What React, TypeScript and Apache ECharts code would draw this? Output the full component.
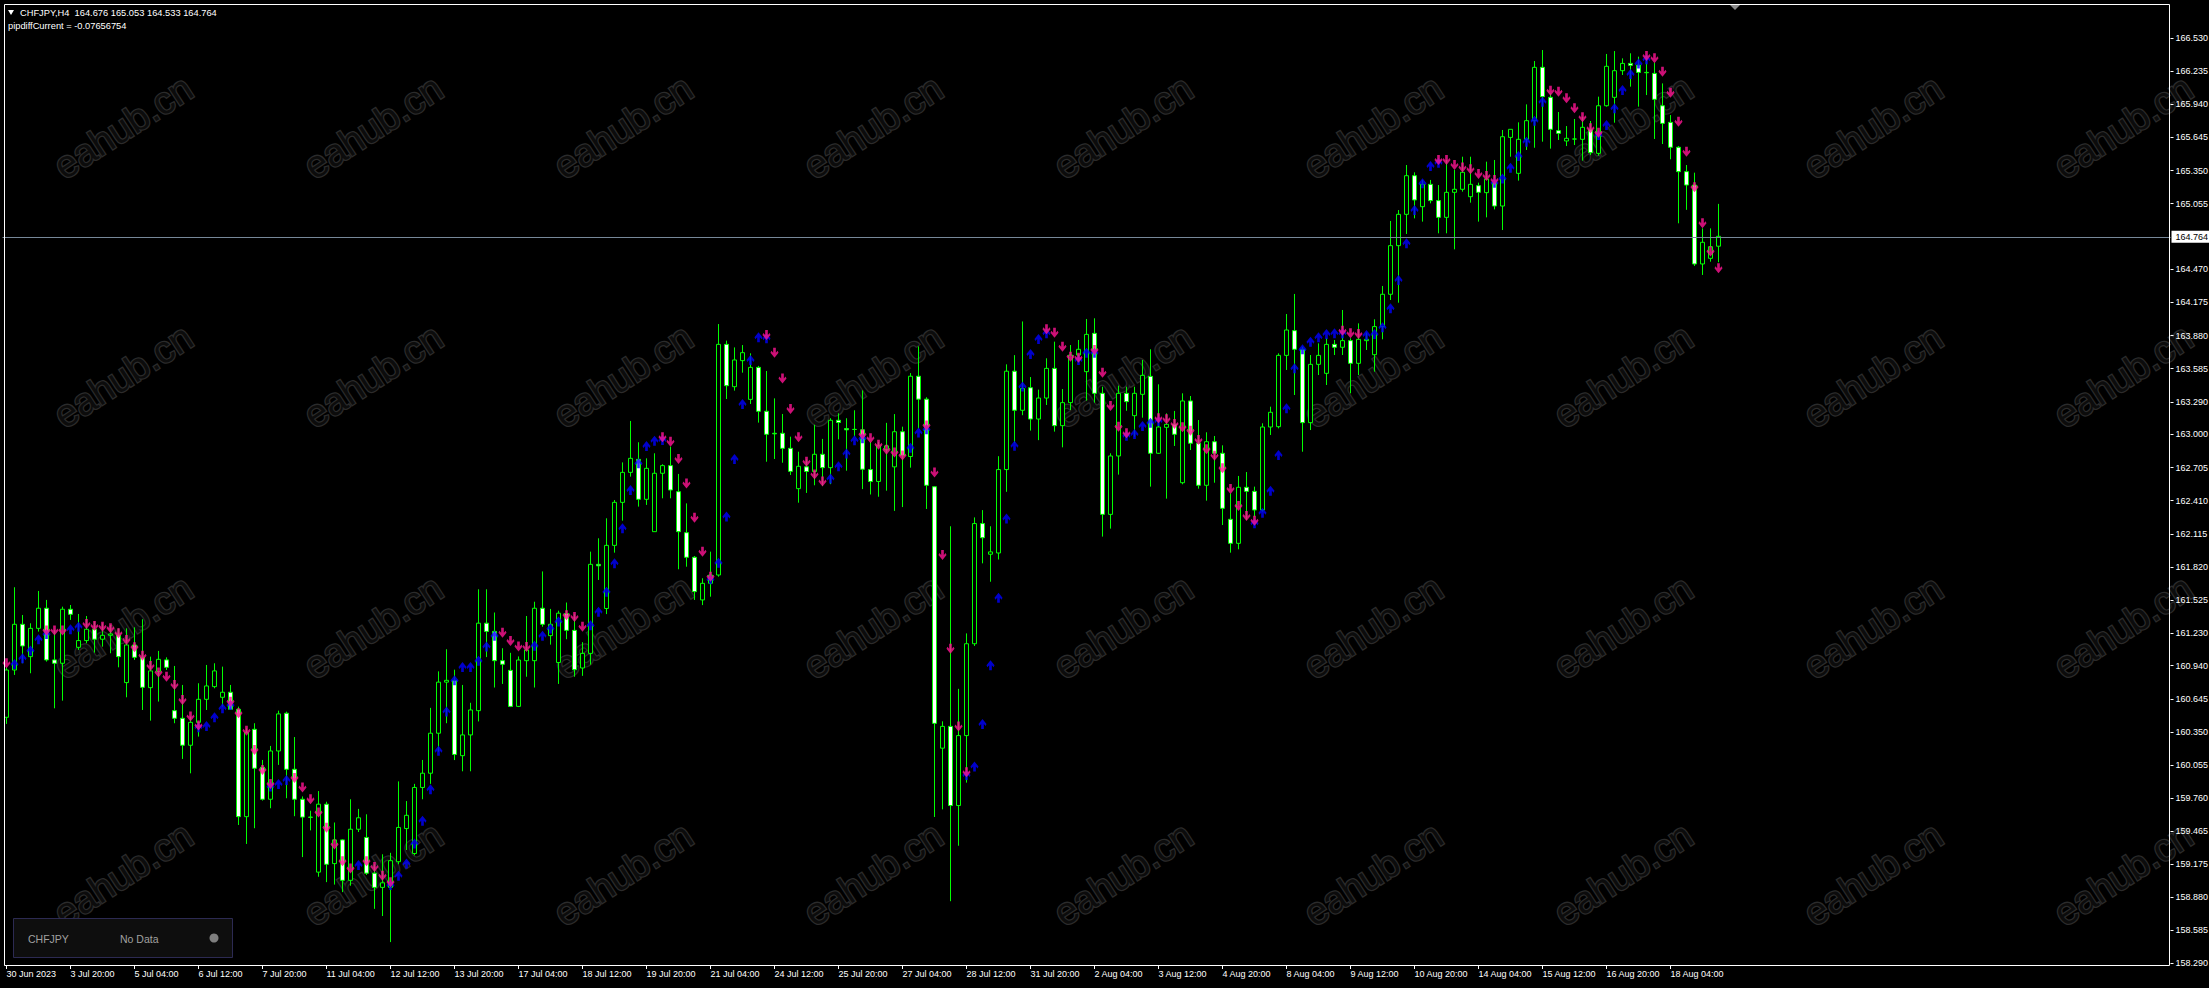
import React, { useEffect, useRef } from 'react';
import * as echarts from 'echarts';

// ---------------- data ----------------
const symbolName = 'CHFJPY';
const headerLine = 'CHFJPY,H4  164.676 165.053 164.533 164.764';
const indicatorLine = 'pipdiffCurrent = -0.07656754';

const dateLabels = [
  '30 Jun 2023', '3 Jul 20:00', '5 Jul 04:00', '6 Jul 12:00', '7 Jul 20:00', '11 Jul 04:00',
  '12 Jul 12:00', '13 Jul 20:00', '17 Jul 04:00', '18 Jul 12:00', '19 Jul 20:00', '21 Jul 04:00',
  '24 Jul 12:00', '25 Jul 20:00', '27 Jul 04:00', '28 Jul 12:00', '31 Jul 20:00', '2 Aug 04:00',
  '3 Aug 12:00', '4 Aug 20:00', '8 Aug 04:00', '9 Aug 12:00', '10 Aug 20:00', '14 Aug 04:00',
  '15 Aug 12:00', '16 Aug 20:00', '18 Aug 04:00',
];

const priceTicks = [
  158.29, 158.585, 158.88, 159.175, 159.465, 159.76, 160.055, 160.35, 160.645, 160.94,
  161.23, 161.525, 161.82, 162.115, 162.41, 162.705, 163.0, 163.29, 163.585, 163.88,
  164.175, 164.47, 165.055, 165.35, 165.645, 165.94, 166.235, 166.53,
];

const currentPrice = 164.764;

const open = [
  160.481, 160.902, 161.309, 161.021, 161.273, 161.452, 160.992, 160.962, 161.443, 161.104,
  161.164, 161.265, 161.176, 161.211, 161.214, 160.790, 161.125, 161.015, 160.745, 160.888,
  160.992, 160.540, 160.472, 160.232, 160.436, 160.641, 160.754, 160.659, 160.704, 160.552,
  159.596, 160.374, 160.036, 159.751, 160.181, 160.517, 160.018, 159.751, 159.592, 159.102,
  159.707, 159.178, 159.389, 159.029, 159.484, 159.411, 159.093, 158.966, 158.966, 159.195,
  159.490, 159.268, 159.856, 159.983, 160.339, 160.794, 160.810, 160.139, 160.324, 160.540,
  161.319, 161.246, 160.985, 160.899, 160.578, 160.985, 160.985, 161.452, 161.208, 160.969,
  161.405, 161.255, 160.920, 161.050, 161.843, 161.450, 162.012, 162.395, 162.662, 162.778,
  162.422, 162.134, 162.654, 162.722, 162.490, 162.125, 161.906, 161.526, 161.674, 161.748,
  163.802, 163.425, 163.657, 163.312, 163.597, 163.206, 163.010, 163.010, 162.876, 162.517,
  162.711, 162.670, 162.823, 162.704, 163.126, 163.052, 163.045, 163.041, 162.687, 162.581,
  162.864, 162.711, 163.024, 162.803, 163.518, 163.314, 162.534, 160.206, 160.400, 159.695,
  160.318, 161.136, 162.206, 161.933, 161.944, 162.687, 163.563, 163.215, 163.416, 163.137,
  163.324, 163.588, 163.078, 163.283, 163.707, 163.559, 163.900, 163.366, 162.288, 162.808,
  163.366, 163.167, 163.357, 163.517, 162.832, 163.063, 163.090, 162.570, 163.298, 162.921,
  162.547, 162.935, 162.832, 162.244, 162.030, 162.529, 162.493, 162.327, 163.066, 163.069,
  163.704, 163.924, 163.758, 163.105, 163.624, 163.544, 163.802, 163.776, 163.835, 163.633,
  163.835, 163.710, 163.960, 164.248, 164.681, 164.960, 165.304, 165.028, 165.227, 165.082,
  164.933, 165.156, 165.183, 165.117, 165.215, 165.153, 165.245, 165.034, 165.645, 165.325,
  165.628, 165.794, 166.269, 166.002, 165.705, 165.613, 165.631, 165.628, 165.717, 165.503,
  165.927, 166.002, 166.239, 166.304, 166.290, 166.224, 166.215, 165.927, 165.779, 165.557,
  165.340, 165.221, 164.518, 164.568, 164.676,
];

const high = [
  160.926, 161.639, 161.392, 161.318, 161.606, 161.526, 161.259, 161.466, 161.481, 161.401,
  161.383, 161.333, 161.318, 161.303, 161.273, 161.273, 161.282, 161.354, 161.021, 161.072,
  161.015, 160.938, 160.769, 160.487, 160.784, 160.947, 160.962, 160.932, 160.769, 160.576,
  160.383, 160.428, 160.101, 160.226, 160.540, 160.531, 160.305, 159.776, 159.649, 159.824,
  159.729, 159.544, 159.395, 159.751, 159.665, 159.617, 159.172, 159.261, 159.274, 159.910,
  159.735, 159.888, 160.101, 160.565, 160.890, 161.087, 160.905, 160.769, 160.610, 161.621,
  161.621, 161.414, 161.096, 161.055, 161.023, 161.383, 161.510, 161.780, 161.446, 161.430,
  161.503, 161.398, 161.150, 161.956, 162.075, 162.253, 162.416, 162.751, 163.120, 162.930,
  162.787, 162.832, 162.734, 162.891, 162.648, 162.386, 161.917, 161.719, 161.956, 163.983,
  163.835, 163.775, 163.796, 163.722, 163.610, 163.565, 163.321, 163.182, 162.980, 162.846,
  162.779, 163.086, 162.960, 163.144, 163.188, 163.144, 163.215, 163.392, 162.932, 162.932,
  163.103, 163.181, 163.069, 163.546, 163.784, 163.331, 162.540, 160.445, 162.182, 160.734,
  161.228, 162.261, 162.326, 162.182, 162.806, 163.624, 163.706, 164.006, 163.511, 163.399,
  163.678, 163.826, 163.404, 163.796, 163.841, 164.028, 164.034, 163.425, 162.832, 163.434,
  163.425, 163.425, 163.663, 163.758, 163.446, 163.188, 163.209, 163.366, 163.342, 163.128,
  163.019, 162.986, 162.903, 162.475, 162.630, 162.665, 162.535, 163.099, 163.247, 163.722,
  164.072, 164.251, 163.781, 163.707, 163.811, 163.856, 163.841, 164.108, 163.856, 163.989,
  163.906, 164.025, 164.322, 164.901, 164.998, 165.399, 165.334, 165.266, 165.266, 165.221,
  165.444, 165.355, 165.473, 165.473, 165.242, 165.429, 165.444, 165.711, 165.717, 165.779,
  165.939, 166.325, 166.423, 166.037, 165.871, 165.746, 165.809, 165.830, 165.791, 166.008,
  166.388, 166.414, 166.349, 166.394, 166.364, 166.370, 166.310, 166.126, 165.844, 165.568,
  165.399, 165.331, 164.835, 164.835, 165.053,
];

const low = [
  160.422, 160.858, 160.962, 160.873, 161.244, 160.977, 160.561, 160.629, 161.348, 161.081,
  161.140, 161.057, 161.110, 161.051, 160.926, 160.659, 160.992, 160.546, 160.451, 160.621,
  160.902, 160.428, 160.110, 159.982, 160.309, 160.546, 160.739, 160.576, 160.546, 159.522,
  159.353, 159.493, 159.739, 159.671, 160.057, 159.760, 159.600, 159.236, 159.474, 159.061,
  159.013, 158.991, 158.924, 158.981, 159.459, 159.077, 158.775, 158.711, 158.479, 159.172,
  159.299, 159.252, 159.751, 159.888, 160.174, 160.428, 160.100, 160.000, 160.000, 160.444,
  161.017, 160.746, 160.778, 160.572, 160.572, 160.842, 160.746, 161.287, 161.128, 160.778,
  161.176, 160.842, 160.850, 160.950, 161.704, 161.400, 161.947, 162.232, 162.624, 162.357,
  162.372, 162.134, 162.431, 162.431, 161.799, 161.822, 161.526, 161.480, 161.555, 161.733,
  163.315, 163.390, 163.550, 163.271, 163.105, 162.757, 162.781, 162.748, 162.639, 162.392,
  162.479, 162.547, 162.540, 162.557, 162.956, 162.677, 162.983, 162.513, 162.465, 162.445,
  162.499, 162.319, 162.353, 162.704, 163.052, 162.336, 159.593, 159.661, 158.843, 159.337,
  159.899, 161.116, 161.852, 161.688, 161.886, 162.489, 162.922, 163.171, 163.034, 162.949,
  163.262, 163.025, 162.885, 163.217, 163.648, 163.301, 163.283, 162.090, 162.161, 162.642,
  163.211, 162.980, 163.149, 162.535, 162.826, 162.428, 162.897, 162.556, 162.861, 162.517,
  162.410, 162.570, 162.193, 161.947, 161.977, 162.238, 162.268, 162.312, 162.995, 163.054,
  163.574, 163.351, 162.846, 163.039, 163.529, 163.440, 163.707, 163.707, 163.366, 163.529,
  163.752, 163.559, 163.847, 164.197, 164.173, 164.785, 164.924, 164.895, 165.058, 164.791,
  164.791, 164.648, 165.162, 165.064, 164.895, 164.933, 165.004, 164.820, 165.473, 165.260,
  165.533, 165.553, 165.607, 165.545, 165.622, 165.568, 165.577, 165.438, 165.488, 165.482,
  165.919, 165.776, 166.201, 166.097, 165.919, 166.022, 165.631, 165.586, 165.450, 164.880,
  165.000, 164.500, 164.420, 164.538, 164.533,
];

const close = [
  160.902, 161.309, 161.116, 161.273, 161.452, 160.992, 160.962, 161.443, 161.398, 161.164,
  161.265, 161.176, 161.211, 161.223, 161.021, 161.125, 161.015, 160.748, 160.894, 160.997,
  160.926, 160.472, 160.232, 160.436, 160.641, 160.760, 160.894, 160.704, 160.552, 159.596,
  160.344, 160.027, 159.751, 160.181, 160.511, 160.018, 159.751, 159.592, 159.590, 159.707,
  159.172, 159.389, 159.029, 159.484, 159.586, 159.093, 158.966, 159.007, 159.204, 159.500,
  159.608, 159.856, 159.983, 160.339, 160.794, 160.810, 160.150, 160.324, 160.546, 161.319,
  161.246, 160.985, 160.953, 160.578, 160.991, 161.080, 161.452, 161.309, 161.309, 161.408,
  161.255, 160.905, 161.050, 161.843, 161.830, 162.012, 162.395, 162.662, 162.787, 162.422,
  162.698, 162.654, 162.722, 162.505, 162.134, 161.906, 161.600, 161.674, 161.748, 163.802,
  163.434, 163.663, 163.728, 163.597, 163.206, 163.001, 163.005, 162.876, 162.671, 162.716,
  162.670, 162.823, 162.704, 163.126, 163.106, 163.041, 163.044, 162.690, 162.581, 162.898,
  162.898, 163.024, 162.813, 163.518, 163.314, 162.547, 160.427, 160.400, 159.695, 160.318,
  161.136, 162.206, 162.080, 161.954, 162.687, 163.563, 163.215, 163.409, 163.137, 163.324,
  163.588, 163.078, 163.283, 163.707, 163.758, 163.891, 163.366, 162.288, 162.808, 163.366,
  163.292, 163.366, 163.526, 162.832, 163.066, 163.090, 163.001, 163.298, 162.921, 162.547,
  162.935, 162.832, 162.342, 162.030, 162.529, 162.493, 162.327, 163.066, 163.197, 163.704,
  163.930, 163.758, 163.105, 163.624, 163.704, 163.802, 163.776, 163.835, 163.633, 163.847,
  163.847, 163.960, 164.248, 164.681, 164.960, 165.304, 165.088, 165.227, 165.082, 164.933,
  165.156, 165.183, 165.334, 165.227, 165.156, 165.274, 165.034, 165.651, 165.717, 165.628,
  165.794, 166.269, 166.008, 165.717, 165.681, 165.637, 165.630, 165.735, 165.509, 165.927,
  166.278, 166.239, 166.304, 166.287, 166.224, 166.221, 165.984, 165.770, 165.557, 165.340,
  165.221, 164.518, 164.711, 164.672, 164.764,
];

// indicator arrows: [bar index, price]
const downArrows = [
  [0, 160.962], [5, 161.253], [6, 161.253], [7, 161.253], [10, 161.312], [11, 161.294], [12, 161.288],
  [13, 161.273], [14, 161.229], [15, 161.17], [16, 161.104], [17, 161.03], [18, 160.938], [19, 160.879],
  [20, 160.843], [21, 160.769], [22, 160.635], [23, 160.487], [24, 160.407], [28, 160.62], [29, 160.517],
  [30, 160.362], [31, 160.19], [32, 160.012], [33, 159.887], [36, 159.94], [37, 159.856], [38, 159.751],
  [39, 159.633], [40, 159.497], [41, 159.347], [42, 159.198], [43, 159.134], [45, 159.198], [46, 159.147],
  [47, 159.07], [48, 159.013], [62, 161.233], [63, 161.16], [64, 161.112], [65, 161.106], [70, 161.389],
  [71, 161.373], [72, 161.287], [82, 162.974], [83, 162.935], [84, 162.781], [85, 162.564], [86, 162.259],
  [87, 161.956], [88, 161.733], [95, 163.885], [96, 163.728], [97, 163.499], [98, 163.226], [99, 162.974],
  [100, 162.757], [101, 162.643], [102, 162.581], [107, 163.0], [108, 162.966], [109, 162.908],
  [110, 162.864], [111, 162.84], [112, 162.813], [115, 163.079], [116, 162.66], [117, 161.927],
  [118, 161.092], [119, 160.4], [120, 159.991], [130, 163.936], [131, 163.906], [132, 163.781],
  [133, 163.692], [134, 163.683], [136, 163.752], [137, 163.55], [138, 163.253], [139, 163.069],
  [140, 163.01], [144, 163.143], [145, 163.134], [146, 163.093], [147, 163.063], [148, 163.033],
  [149, 162.95], [150, 162.867], [151, 162.811], [152, 162.698], [153, 162.514], [154, 162.363],
  [155, 162.274], [156, 162.232], [167, 163.924], [168, 163.9], [169, 163.894], [179, 165.444],
  [180, 165.444], [181, 165.399], [182, 165.378], [183, 165.361], [184, 165.319], [185, 165.301],
  [186, 165.266], [193, 166.061], [194, 166.052], [195, 165.993], [196, 165.904], [197, 165.824],
  [198, 165.726], [199, 165.687], [205, 166.37], [206, 166.349], [207, 166.23], [208, 166.043],
  [209, 165.785], [210, 165.518], [211, 165.2], [212, 164.88], [213, 164.628], [214, 164.479],
];

const upArrows = [
  [1, 160.956], [2, 161.006], [3, 161.075], [4, 161.176], [5, 161.223], [8, 161.265], [9, 161.288],
  [24, 160.392], [25, 160.404], [26, 160.481], [27, 160.561], [28, 160.591], [33, 159.864], [34, 159.887],
  [35, 159.922], [44, 159.166], [48, 158.988], [49, 159.07], [50, 159.179], [51, 159.357], [52, 159.56],
  [53, 159.84], [54, 160.183], [55, 160.533], [56, 160.81], [57, 160.928], [58, 160.928], [59, 160.985],
  [60, 161.112], [61, 161.208], [66, 161.119], [67, 161.208], [68, 161.271], [69, 161.335], [73, 161.3],
  [74, 161.42], [75, 161.6], [76, 161.852], [77, 162.164], [78, 162.505], [79, 162.743], [80, 162.897],
  [81, 162.944], [82, 162.95], [88, 161.71], [89, 161.858], [90, 162.268], [91, 162.781], [92, 163.271],
  [93, 163.663], [94, 163.865], [95, 163.856], [103, 162.608], [104, 162.717], [105, 162.83], [106, 162.949],
  [107, 162.966], [113, 162.881], [114, 163.017], [115, 163.045], [120, 159.967], [121, 160.042],
  [122, 160.421], [123, 160.945], [124, 161.545], [125, 162.251], [126, 162.898], [127, 163.426],
  [128, 163.716], [129, 163.85], [130, 163.9], [134, 163.663], [135, 163.728], [136, 163.728],
  [140, 162.989], [141, 163.004], [142, 163.075], [143, 163.105], [144, 163.12], [156, 162.208],
  [157, 162.303], [158, 162.498], [159, 162.817], [160, 163.232], [161, 163.589], [162, 163.758],
  [163, 163.826], [164, 163.865], [165, 163.894], [166, 163.9], [167, 163.9], [170, 163.885],
  [171, 163.894], [172, 163.954], [173, 164.123], [174, 164.375], [175, 164.702], [176, 164.999],
  [177, 165.236], [178, 165.39], [179, 165.42], [186, 165.242], [187, 165.28], [188, 165.375],
  [189, 165.479], [190, 165.607], [191, 165.794], [192, 165.963], [199, 165.666], [200, 165.755],
  [201, 165.904], [202, 166.067], [203, 166.21], [204, 166.304], [205, 166.34],
];

// ---------------- layout / style ----------------
const W = 2209;
const H = 988;
const SLOTS = 271; // bar slots incl. right shift space (8 px each)
const LABEL_STEP = 8;
const Y_MIN = 158.275;
const Y_MAX = 166.833;
const FONT = '"Liberation Sans", Arial, sans-serif';

const DOWN_PATH = 'path://M3,0L6,0L6,5L8,3L9,5L4.5,10L0,5L1,3L3,5Z';
const UP_PATH = 'path://M4.5,0L9,5L8,7L6,5L6,10L3,10L3,5L1,7L0,5Z';

function buildOption() {
  const categories = Array.from({ length: SLOTS }, (_, i) => 'b' + i);
  const candleData = open.map((o, i) => [o, close[i], low[i], high[i]]);
  const isLabel = (i: number) => i % LABEL_STEP === 0 && i / LABEL_STEP < dateLabels.length;

  const graphics: any[] = [];
  // watermarks
  const wmX = [123, 373, 623, 873, 1123, 1373, 1623, 1873, 2123];
  const wmY = [127, 376, 627, 874];
  wmY.forEach((y) =>
    wmX.forEach((x) =>
      graphics.push({
        type: 'text', x, y, rotation: (33 * Math.PI) / 180, z: 0, silent: true,
        style: {
          text: 'eahub.cn', fill: '#0c0c0c', stroke: '#2b2b2b', lineWidth: 2.5,
          fontSize: 38, fontWeight: 'normal', fontFamily: FONT,
          align: 'center', verticalAlign: 'middle', textAlign: 'center', textVerticalAlign: 'middle',
        },
      }),
    ),
  );
  // chart frame
  graphics.push({ type: 'rect', z: 50, silent: true, shape: { x: 4.5, y: 4.5, width: 2165, height: 961 }, style: { fill: 'none', stroke: '#ffffff', lineWidth: 1 } });
  // chart shift marker
  graphics.push({ type: 'polygon', z: 50, silent: true, shape: { points: [[1730, 5], [1740, 5], [1735, 10]] }, style: { fill: '#8c8c8c' } });
  // header
  graphics.push({ type: 'polygon', z: 50, silent: true, shape: { points: [[8, 10], [14, 10], [11, 15]] }, style: { fill: '#ffffff' } });
  graphics.push({ type: 'text', z: 50, silent: true, x: 20, y: 13, style: { text: headerLine, fill: '#ffffff', fontSize: 9.3, fontFamily: FONT, verticalAlign: 'middle', textVerticalAlign: 'middle' } });
  graphics.push({ type: 'text', z: 50, silent: true, x: 8, y: 26, style: { text: indicatorLine, fill: '#ffffff', fontSize: 9.3, fontFamily: FONT, verticalAlign: 'middle', textVerticalAlign: 'middle' } });
  // bottom-left panel
  graphics.push({ type: 'rect', z: 50, silent: true, shape: { x: 13.5, y: 918.5, width: 219, height: 39 }, style: { fill: '#0e0e0e', stroke: '#2c2a52', lineWidth: 1 } });
  graphics.push({ type: 'text', z: 51, silent: true, x: 28, y: 939, style: { text: symbolName, fill: '#a0a0a0', fontSize: 10.5, fontFamily: FONT, verticalAlign: 'middle', textVerticalAlign: 'middle' } });
  graphics.push({ type: 'text', z: 51, silent: true, x: 120, y: 939, style: { text: 'No Data', fill: '#a0a0a0', fontSize: 10.5, fontFamily: FONT, verticalAlign: 'middle', textVerticalAlign: 'middle' } });
  graphics.push({ type: 'circle', z: 51, silent: true, shape: { cx: 214, cy: 938, r: 4.5 }, style: { fill: '#7f7f7f' } });

  return {
    backgroundColor: '#000000',
    animation: false,
    tooltip: { show: false },
    grid: { left: 2.5, top: 4, width: 2168, height: 961, containLabel: false, outerBoundsMode: 'none' },
    xAxis: {
      type: 'category',
      data: categories,
      boundaryGap: true,
      axisLine: { show: false },
      axisTick: { show: true, alignWithLabel: true, interval: (i: number) => isLabel(i), length: 4, lineStyle: { color: '#ffffff' } },
      axisLabel: {
        interval: (i: number) => isLabel(i),
        formatter: (_v: string, i: number) => (isLabel(i) ? dateLabels[i / LABEL_STEP] : ''),
        color: '#ffffff', fontSize: 9, fontFamily: FONT, align: 'left', margin: 4, overflow: 'none',
      },
      splitLine: { show: false },
    },
    yAxis: {
      type: 'value',
      position: 'right',
      min: Y_MIN,
      max: Y_MAX,
      scale: true,
      axisLine: { show: false },
      axisTick: { show: true, customValues: priceTicks, length: 3, lineStyle: { color: '#ffffff' } },
      axisLabel: {
        customValues: priceTicks, formatter: (v: number) => v.toFixed(3), color: '#ffffff',
        fontSize: 9, fontFamily: FONT, margin: 5, overflow: 'none', hideOverlap: false,
      },
      splitLine: { show: false },
    },
    graphic: graphics,
    series: [
      {
        type: 'candlestick',
        data: candleData,
        barWidth: 4,
        z: 2,
        itemStyle: { color: '#000000', color0: '#ffffff', borderColor: '#00ff00', borderColor0: '#00ff00', borderWidth: 1 },
        markLine: {
          silent: true,
          symbol: ['none', 'none'],
          data: [{ yAxis: currentPrice }],
          lineStyle: { color: '#778899', width: 1, type: 'solid' },
          label: {
            show: true, position: 'end', distance: 1, formatter: currentPrice.toFixed(3), overflow: 'none',
            backgroundColor: '#ffffff', color: '#000000', fontSize: 9, fontFamily: FONT, padding: [2, 4, 1, 4],
          },
        },
      },
      {
        type: 'scatter', data: upArrows, symbol: UP_PATH, symbolSize: [8, 10], z: 3,
        itemStyle: { color: '#0000ff' },
      },
      {
        type: 'scatter', data: downArrows, symbol: DOWN_PATH, symbolSize: [8, 10], z: 4,
        itemStyle: { color: '#ff1493' },
      },
    ],
  };
}

export default function App() {
  const ref = useRef<HTMLDivElement>(null);
  useEffect(() => {
    document.body.style.margin = '0';
    document.body.style.background = '#000000';
    if (!ref.current) return;
    const chart = echarts.init(ref.current, null, { renderer: 'svg' });
    chart.setOption(buildOption() as any);
    return () => chart.dispose();
  }, []);
  return <div ref={ref} style={{ width: W, height: H, background: '#000000' }} />;
}
